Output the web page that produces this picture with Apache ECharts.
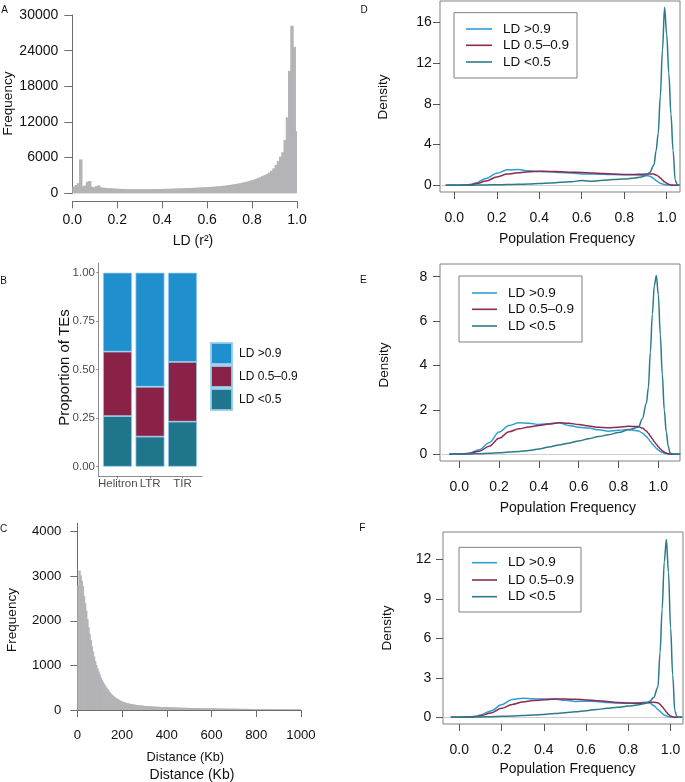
<!DOCTYPE html>
<html><head><meta charset="utf-8">
<script src="https://cdn.jsdelivr.net/npm/echarts@6/dist/echarts.min.js"></script>
<style>html,body{margin:0;padding:0;background:#fff}#c{width:685px;height:782px}</style>
</head><body><div id="c"></div>
<script>
// ---------- Panel A: LD (r^2) histogram, bins of 0.01 ----------
const ldBinWidth = 0.01;
const ldFrequency = [
  1100, 1400, 1700, 5700, 1200, 1300, 1950, 2050, 1100, 1000,
  1200, 1330, 1000, 950, 900, 880, 850, 830, 800, 790,
  760, 740, 730, 720, 700, 690, 700, 680, 690, 680,
  700, 690, 680, 700, 690, 710, 700, 720, 710, 730,
  740, 750, 760, 770, 790, 800, 810, 820, 840, 850,
  870, 880, 900, 910, 930, 950, 970, 990, 1010, 1030,
  1060, 1080, 1110, 1140, 1170, 1200, 1240, 1280, 1330, 1380,
  1440, 1500, 1560, 1630, 1700, 1780, 1870, 1960, 2060, 2170,
  2290, 2420, 2560, 2720, 2890, 3060, 3250, 3470, 3780, 4200,
  4760, 5430, 6160, 6900, 8960, 12770, 20600, 28200, 24650, 10470
];
const ldTicks = [0, 0.2, 0.4, 0.6, 0.8, 1.0];
const freqTicksA = [0, 6000, 12000, 18000, 24000, 30000];

// ---------- Panel B: proportion of TEs ----------
const teCategories = ['Helitron', 'LTR', 'TIR'];
const propLow = [0.261, 0.155, 0.232];
const propMid = [0.332, 0.257, 0.308];
const propHigh = [0.407, 0.588, 0.460];
const propTicks = [0, 0.25, 0.5, 0.75, 1];

// ---------- Panel C: distance histogram, bins of 5 Kb ----------
const distBinWidth = 5;
const distanceFrequency = [
  2800, 3130, 3020, 2900, 2780, 2560, 2400, 2230, 2040, 1860,
  1710, 1570, 1430, 1310, 1200, 1100, 1010, 935, 865, 795,
  735, 680, 630, 585, 545, 505, 470, 435, 400, 370,
  345, 320, 300, 280, 262, 246, 231, 217, 205, 193,
  182, 173, 165, 158, 151, 145, 139, 134, 129, 125,
  121, 117, 113, 110, 107, 104, 101, 98, 95, 92,
  90, 88, 86, 84, 82, 80, 79, 77, 76, 74,
  73, 72, 70, 69, 68, 67, 66, 65, 64, 63,
  62, 61, 60, 59, 58, 57, 56, 56, 55, 54,
  53, 52, 52, 51, 50, 50, 49, 48, 48, 47,
  46, 46, 45, 45, 44, 43, 43, 42, 42, 41,
  41, 40, 40, 39, 39, 38, 38, 37, 37, 36,
  36, 35, 35, 35, 34, 34, 33, 33, 33, 32,
  32, 31, 31, 31, 30, 30, 30, 29, 29, 29,
  28, 28, 28, 27, 27, 27, 26, 26, 26, 25,
  25, 25, 24, 24, 24, 23, 23, 23, 23, 22,
  22, 22, 21, 21, 21, 21, 20, 20, 20, 20,
  19, 19, 19, 19, 18, 18, 18, 18, 18, 17,
  17, 17, 17, 17, 16, 16, 16, 16, 16, 15,
  15, 15, 15, 15, 15, 14, 14, 14, 14, 14
];
const distTicks = [0, 200, 400, 600, 800, 1000];
const distFreqTicks = [0, 1000, 2000, 3000, 4000];

// ---------- Panels D/E/F: density of population frequency ----------
const popTicks = [0, 0.2, 0.4, 0.6, 0.8, 1.0];
const seriesNames = ['LD >0.9', 'LD 0.5\u20130.9', 'LD <0.5'];

const densD_x = [-0.04, 0, 0.05, 0.08, 0.1, 0.15, 0.2, 0.25, 0.3, 0.35, 0.4, 0.45, 0.5, 0.55, 0.6, 0.65, 0.7, 0.75, 0.8, 0.85, 0.88, 0.9, 0.92, 0.94, 0.95, 0.96, 0.97, 0.98, 0.99, 1.0, 1.01, 1.02, 1.03, 1.04, 1.05, 1.06];
const densD_high = [0, 0, 0.02, 0.1, 0.22, 0.68, 1.18, 1.52, 1.56, 1.42, 1.36, 1.32, 1.26, 1.2, 1.11, 1.1, 1.08, 1.05, 1.04, 1.03, 1.0, 0.97, 0.9, 0.65, 0.47, 0.32, 0.2, 0.12, 0.07, 0.04, 0.02, 0.01, 0, 0, 0, 0];
const densD_mid = [0, 0, 0.02, 0.06, 0.14, 0.42, 0.82, 1.1, 1.24, 1.34, 1.38, 1.36, 1.33, 1.29, 1.26, 1.22, 1.17, 1.1, 1.07, 1.07, 1.08, 1.1, 1.12, 1.1, 1.02, 0.9, 0.72, 0.52, 0.34, 0.2, 0.1, 0.04, 0.01, 0, 0, 0];
const densD_low = [0, 0, 0, 0.01, 0.02, 0.04, 0.06, 0.07, 0.1, 0.13, 0.17, 0.22, 0.3, 0.36, 0.46, 0.4, 0.5, 0.56, 0.62, 0.72, 0.82, 0.95, 1.25, 2.0, 3.4, 5.1, 8.8, 13.3, 17.5, 14.8, 11.0, 7.0, 3.4, 0.5, 0.05, 0];

const densE_x = [-0.05, 0, 0.05, 0.1, 0.15, 0.2, 0.25, 0.3, 0.35, 0.4, 0.45, 0.5, 0.55, 0.6, 0.65, 0.7, 0.75, 0.8, 0.85, 0.9, 0.92, 0.94, 0.95, 0.96, 0.97, 0.98, 0.99, 1.0, 1.01, 1.02, 1.03, 1.04, 1.05, 1.06, 1.08, 1.11];
const densE_high = [0, 0.01, 0.05, 0.2, 0.52, 1.0, 1.3, 1.42, 1.4, 1.34, 1.38, 1.42, 1.3, 1.22, 1.18, 1.1, 1.04, 1.08, 1.12, 1.05, 0.96, 0.8, 0.7, 0.58, 0.46, 0.36, 0.27, 0.19, 0.13, 0.09, 0.05, 0.03, 0.01, 0, 0, 0];
const densE_mid = [0, 0.01, 0.04, 0.14, 0.36, 0.72, 1.02, 1.15, 1.23, 1.3, 1.36, 1.42, 1.4, 1.34, 1.27, 1.22, 1.2, 1.22, 1.26, 1.25, 1.18, 1.05, 0.95, 0.82, 0.7, 0.57, 0.45, 0.34, 0.24, 0.16, 0.1, 0.06, 0.03, 0.01, 0, 0];
const densE_low = [0, 0, 0.01, 0.03, 0.05, 0.07, 0.1, 0.13, 0.17, 0.24, 0.33, 0.42, 0.5, 0.6, 0.7, 0.8, 0.88, 0.98, 1.1, 1.22, 1.6, 2.3, 3.0, 4.6, 6.3, 7.6, 8.05, 7.2, 5.4, 3.6, 2.0, 1.0, 0.35, 0.05, 0, 0];

const densF_x = [-0.04, 0, 0.05, 0.08, 0.1, 0.15, 0.2, 0.25, 0.3, 0.35, 0.4, 0.45, 0.5, 0.55, 0.6, 0.65, 0.7, 0.75, 0.8, 0.85, 0.88, 0.9, 0.92, 0.94, 0.95, 0.96, 0.97, 0.98, 0.99, 1.0, 1.01, 1.02, 1.03, 1.04, 1.055];
const densF_high = [0, 0.01, 0.05, 0.08, 0.18, 0.48, 0.95, 1.35, 1.45, 1.4, 1.38, 1.38, 1.3, 1.2, 1.22, 1.2, 1.12, 1.08, 1.06, 1.1, 1.14, 1.1, 0.9, 0.6, 0.45, 0.3, 0.18, 0.1, 0.05, 0.02, 0, 0, 0, 0, 0];
const densF_mid = [0, 0.01, 0.04, 0.06, 0.12, 0.33, 0.68, 0.98, 1.16, 1.27, 1.33, 1.38, 1.38, 1.37, 1.32, 1.26, 1.2, 1.12, 1.08, 1.06, 1.08, 1.13, 1.15, 1.1, 1.0, 0.82, 0.62, 0.4, 0.22, 0.1, 0.04, 0.01, 0, 0, 0];
const densF_low = [0, 0, 0.01, 0.02, 0.03, 0.05, 0.07, 0.1, 0.13, 0.18, 0.22, 0.28, 0.35, 0.42, 0.5, 0.6, 0.68, 0.76, 0.85, 0.95, 1.05, 1.2, 1.5, 2.3, 4.9, 8.2, 11.8, 13.5, 11.0, 6.8, 3.2, 0.5, 0.05, 0, 0];
const yTicksD = [0, 4, 8, 12, 16];
const yTicksE = [0, 2, 4, 6, 8];
const yTicksF = [0, 3, 6, 9, 12];

// ---------- styling ----------
const FONT = '"Liberation Sans", Arial, Helvetica, sans-serif';
const HIST = '#b4b4b7';
const AX = '#6e6e6e';
const barColors = ['#1f8fce', '#8a2248', '#1f7589'];
const lineColors = ['#2e9fd6', '#8c2a50', '#2a7c8b'];

function labelStyle(size, color, margin) {
  return { fontSize: size, color: color || '#111', fontFamily: FONT, margin: margin };
}
function popXAxis(grid, min, max) {
  return {
    type: 'value', gridIndex: grid, min: min, max: max,
    axisLine: { show: false, onZero: false }, splitLine: { show: false },
    axisTick: { show: true, customValues: popTicks, length: 7, lineStyle: { color: '#555' } },
    axisLabel: Object.assign(labelStyle(14, '#111', 19), { customValues: popTicks, formatter: v => v.toFixed(1) })
  };
}
function densYAxis(grid, min, max, ticks, margin) {
  return {
    type: 'value', gridIndex: grid, min: min, max: max,
    axisLine: { show: false, onZero: false }, splitLine: { show: false },
    axisTick: { show: true, customValues: ticks, length: 7, lineStyle: { color: '#555' } },
    axisLabel: Object.assign(labelStyle(14, '#111', margin), { customValues: ticks, formatter: v => String(v) })
  };
}
function dens(nameIdx, xs, ys, xi, yi, withZero) {
  const s = {
    type: 'line', name: seriesNames[nameIdx], xAxisIndex: xi, yAxisIndex: yi,
    data: xs.map((x, i) => [x, ys[i]]),
    showSymbol: false, symbol: 'none', smooth: 0.35, smoothMonotone: 'x',
    lineStyle: { color: lineColors[nameIdx], width: 1.5 }, itemStyle: { color: lineColors[nameIdx] },
    silent: true, z: 3 + nameIdx
  };
  if (withZero) {
    s.markLine = { silent: true, symbol: 'none', label: { show: false }, z: 1,
      lineStyle: { color: '#cfcfcf', width: 1, type: 'solid' }, data: [{ yAxis: 0 }] };
  }
  return s;
}
// Histogram drawn as rects between bin edges, through the axis scales.
function histSeries(name, values, binWidth, xi, yi) {
  const last = values.length - 1;
  return {
    type: 'custom', name: name, xAxisIndex: xi, yAxisIndex: yi, silent: true,
    data: values.map((v, i) => [i * binWidth, (i + 1) * binWidth, v]),
    encode: { x: [0, 1], y: 2 },
    renderItem: function (params, api) {
      const p0 = api.coord([api.value(0), 0]);
      const p1 = api.coord([api.value(1), api.value(2)]);
      const extra = params.dataIndex === last ? 0 : 1.2;
      return { type: 'rect',
        shape: { x: p0[0], y: p1[1], width: (p1[0] - p0[0]) + extra, height: p0[1] - p1[1] },
        style: { fill: HIST } };
    }
  };
}
function text(x, y, str, size, opt) {
  opt = opt || {};
  return { type: 'text', x: x, y: y, rotation: opt.rot || 0, z: 10,
    style: { text: str, fill: opt.color || '#111', font: size + 'px ' + FONT,
      align: opt.align || 'center', verticalAlign: 'middle' } };
}
function legendBox(bx, by, bw, bh, rows, lx1, lx2, tx) {
  const els = [{ type: 'rect', z: 10, shape: { x: bx, y: by, width: bw, height: bh },
    style: { fill: 'rgba(255,255,255,0)', stroke: '#808080', lineWidth: 1 } }];
  rows.forEach((ry, i) => {
    els.push({ type: 'line', z: 10, shape: { x1: lx1, y1: ry, x2: lx2, y2: ry },
      style: { stroke: lineColors[i], lineWidth: 1.6 } });
    els.push(text(tx, ry, seriesNames[i], 13.5, { align: 'left' }));
  });
  return els;
}
const boxGrid = { show: true, borderColor: '#808080', borderWidth: 1, backgroundColor: 'rgba(0,0,0,0)' };

const option = {
  animation: false,
  backgroundColor: '#fff',
  textStyle: { fontFamily: FONT },
  grid: [
    { left: 72.3, top: 15, width: 224.7, height: 178.3 },                 // 0 A
    { left: 98.3, top: 263, width: 103.7, height: 213.4 },                // 1 B (axes)
    { left: 77.3, top: 523.3, width: 223.7, height: 186.7 },              // 2 C
    Object.assign({ left: 440, top: 1, width: 240, height: 191 }, boxGrid),   // 3 D
    Object.assign({ left: 440, top: 264, width: 240, height: 197 }, boxGrid), // 4 E
    Object.assign({ left: 443, top: 532, width: 240, height: 192 }, boxGrid), // 5 F
    { left: 101.25, top: 263, width: 97.5, height: 213.4 }                // 6 B (bars)
  ],
  xAxis: [
    { type: 'value', gridIndex: 0, min: 0, max: 1, interval: 0.2, offset: 8,
      axisLine: { show: true, onZero: false, lineStyle: { color: AX } }, splitLine: { show: false },
      axisTick: { length: 7, lineStyle: { color: AX } },
      axisLabel: Object.assign(labelStyle(14, '#111', 12), { formatter: v => v.toFixed(1) }) },
    { type: 'value', gridIndex: 1, min: 0.4, max: 3.6,
      axisLine: { show: true, onZero: false, lineStyle: { color: '#8a8a8a' } }, splitLine: { show: false },
      axisTick: { show: true, customValues: [1, 2, 3], length: 2, lineStyle: { color: '#8a8a8a' } },
      axisLabel: Object.assign(labelStyle(11.5, '#4d4d4d', 1), { customValues: [1, 2, 3], formatter: v => teCategories[Math.round(v) - 1] }) },
    { type: 'value', gridIndex: 2, min: 0, max: 1000, interval: 200,
      axisLine: { show: true, onZero: false, lineStyle: { color: AX } }, splitLine: { show: false },
      axisTick: { length: 7, lineStyle: { color: AX } },
      axisLabel: Object.assign(labelStyle(13.2, '#111', 19), { formatter: v => String(v) }) },
    popXAxis(3, -0.0673, 1.0626),
    popXAxis(4, -0.097, 1.109),
    popXAxis(5, -0.077, 1.0587),
    { type: 'category', gridIndex: 6, data: teCategories, show: false, boundaryGap: true }
  ],
  yAxis: [
    { type: 'value', gridIndex: 0, min: 0, max: 30000, interval: 6000,
      axisLine: { show: true, onZero: false, lineStyle: { color: AX } }, splitLine: { show: false },
      axisTick: { show: true, length: 8, lineStyle: { color: AX } },
      axisLabel: Object.assign(labelStyle(14, '#111', 14), { formatter: v => String(v) }) },
    { type: 'value', gridIndex: 1, min: -0.05, max: 1.05,
      axisLine: { show: true, onZero: false, lineStyle: { color: '#8a8a8a' } }, splitLine: { show: false },
      axisTick: { show: true, customValues: propTicks, length: 2, lineStyle: { color: '#8a8a8a' } },
      axisLabel: Object.assign(labelStyle(11.5, '#4d4d4d', 3.3), { customValues: propTicks, formatter: v => v.toFixed(2) }) },
    { type: 'value', gridIndex: 2, min: 0, max: 4188,
      axisLine: { show: true, onZero: false, lineStyle: { color: AX } }, splitLine: { show: false },
      axisTick: { show: true, customValues: distFreqTicks, length: 7, lineStyle: { color: AX } },
      axisLabel: Object.assign(labelStyle(13.2, '#111', 16), { customValues: distFreqTicks, formatter: v => String(v) }) },
    densYAxis(3, -0.659, 18.12, yTicksD, 8.3),
    densYAxis(4, -0.302, 8.57, yTicksE, 12.7),
    densYAxis(5, -0.509, 14.07, yTicksF, 11.6),
    { type: 'value', gridIndex: 6, min: -0.05, max: 1.05, show: false }
  ],
  legend: {
    orient: 'vertical', left: 210, top: 342, itemWidth: 21, itemHeight: 21, itemGap: 0,
    icon: 'rect', padding: 0, selectedMode: false,
    data: seriesNames,
    textStyle: { fontSize: 12, color: '#111', fontFamily: FONT, padding: [0, 0, 0, 2] }
  },
  series: [
    histSeries('LD histogram', ldFrequency, ldBinWidth, 0, 0),
    { type: 'bar', name: seriesNames[2], xAxisIndex: 6, yAxisIndex: 6, stack: 'te', barWidth: 29,
      data: propLow, silent: true,
      itemStyle: { color: barColors[2], borderColor: 'rgba(150,205,235,0.9)', borderWidth: 0.8 } },
    { type: 'bar', name: seriesNames[1], xAxisIndex: 6, yAxisIndex: 6, stack: 'te', barWidth: 29,
      data: propMid, silent: true,
      itemStyle: { color: barColors[1], borderColor: 'rgba(150,205,235,0.9)', borderWidth: 0.8 } },
    { type: 'bar', name: seriesNames[0], xAxisIndex: 6, yAxisIndex: 6, stack: 'te', barWidth: 29,
      data: propHigh, silent: true,
      itemStyle: { color: barColors[0], borderColor: 'rgba(150,205,235,0.9)', borderWidth: 0.8 } },
    histSeries('Distance histogram', distanceFrequency, distBinWidth, 2, 2),
    dens(0, densD_x, densD_high, 3, 3, true),
    dens(1, densD_x, densD_mid, 3, 3, false),
    dens(2, densD_x, densD_low, 3, 3, false),
    dens(0, densE_x, densE_high, 4, 4, true),
    dens(1, densE_x, densE_mid, 4, 4, false),
    dens(2, densE_x, densE_low, 4, 4, false),
    dens(0, densF_x, densF_high, 5, 5, true),
    dens(1, densF_x, densF_mid, 5, 5, false),
    dens(2, densF_x, densF_low, 5, 5, false)
  ],
  graphic: [].concat(
    [
      text(4.5, 10, 'A', 10),
      text(3.7, 281.7, 'B', 10),
      text(3.7, 529, 'C', 10),
      text(364, 10, 'D', 10),
      text(363.3, 280.7, 'E', 10),
      text(362.3, 528.3, 'F', 10),
      text(193, 241, 'LD (r\u00B2)', 14),
      text(8, 103.5, 'Frequency', 13.5, { rot: Math.PI / 2 }),
      text(65, 367.5, 'Proportion of TEs', 15, { rot: Math.PI / 2 }),
      text(12, 620, 'Frequency', 13.5, { rot: Math.PI / 2 }),
      text(185.3, 757.7, 'Distance (Kb)', 12.8),
      text(192, 775, 'Distance (Kb)', 14),
      text(383, 97, 'Density', 13.5, { rot: Math.PI / 2 }),
      text(384, 365, 'Density', 13.5, { rot: Math.PI / 2 }),
      text(387, 628, 'Density', 13.5, { rot: Math.PI / 2 }),
      text(567, 239, 'Population Frequency', 14),
      text(567.8, 508.3, 'Population Frequency', 14),
      text(567.5, 769.3, 'Population Frequency', 14)
    ],
    legendBox(454, 12.7, 123, 65.3, [29, 45.3, 62], 466, 492, 503),
    legendBox(459, 276, 123, 66, [293, 309.3, 326], 472, 497, 508),
    legendBox(459, 547.3, 122, 64.7, [562.7, 580, 596.7], 472, 497, 508)
  )
};

const chart = echarts.init(document.getElementById('c'), null, { renderer: 'canvas' });
chart.setOption(option);
</script>
</body></html>
